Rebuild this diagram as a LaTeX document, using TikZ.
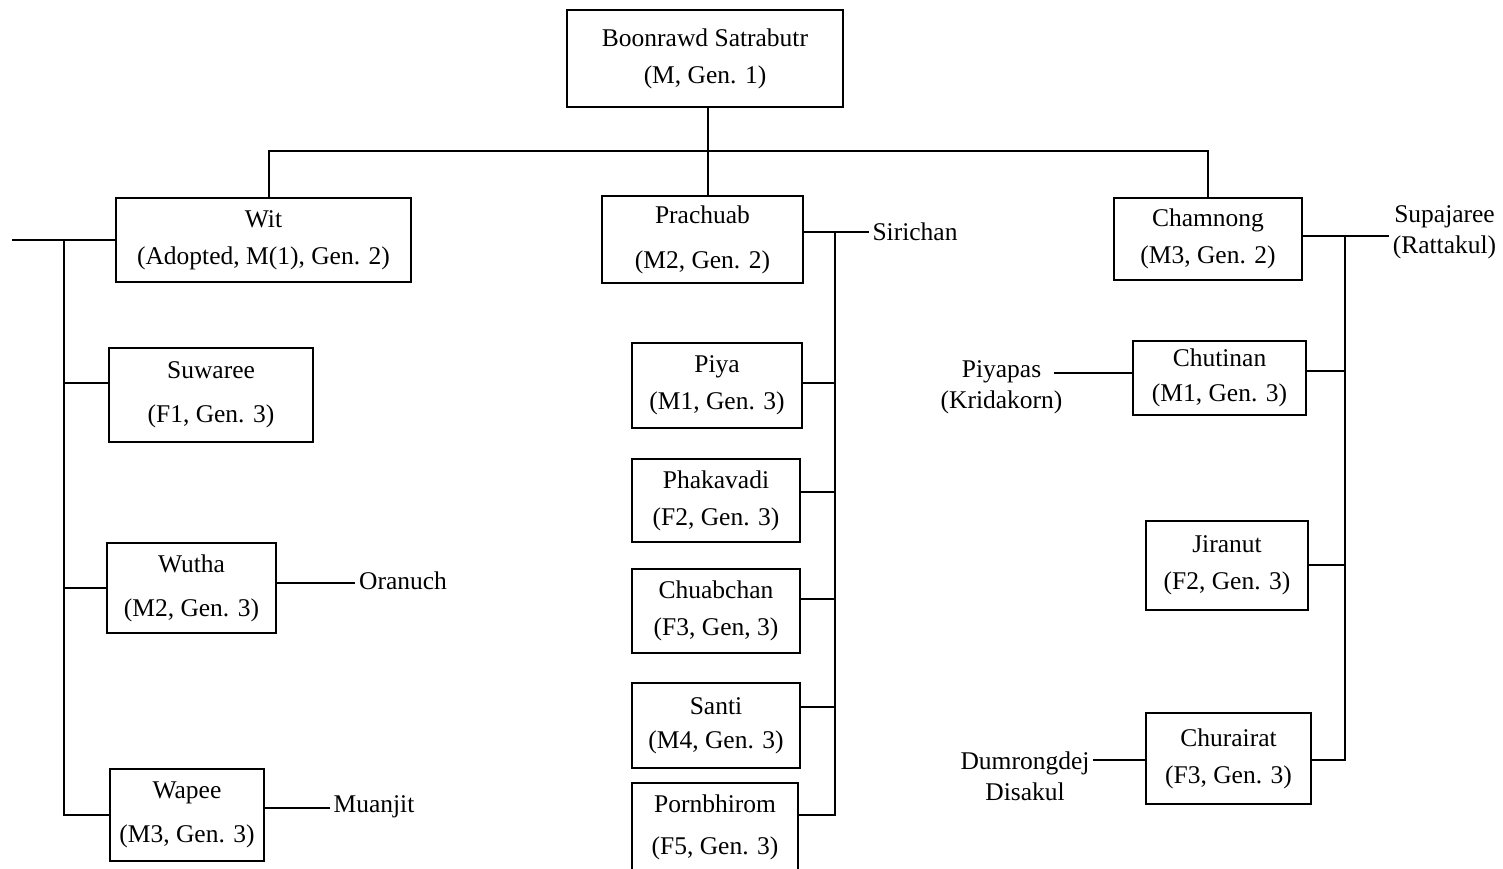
\documentclass[tikz,border=0pt]{standalone}
\usepackage{fontspec}
\setmainfont{Liberation Serif}

\begin{document}
\begin{tikzpicture}[x=1pt, y=-1pt, line width=1.5pt,
  font=\fontsize{25.5}{37}\selectfont,
  person/.style={draw, inner sep=0pt, align=center},
  spouse/.style={inner sep=3pt, align=center, font=\fontsize{25.5}{31}\selectfont}]
\useasboundingbox (0,0) rectangle (1503,869);
\clip (0,0) rectangle (1503,869);

% generation 1
\node[person, minimum width=276pt, minimum height=97pt] (boonrawd) at (705,58.5) {Boonrawd Satrabutr\\(M, Gen. 1)};

% generation 2
\node[person, minimum width=295pt, minimum height=84pt] (wit) at (263.5,240) {Wit\\(Adopted, M(1), Gen. 2)};
\node[person, minimum width=201pt, minimum height=87pt] (prachuab) at (702.5,239.5) {Prachuab\\[8pt](M2, Gen. 2)};
\node[person, minimum width=188pt, minimum height=82pt] (chamnong) at (1208,239) {Chamnong\\(M3, Gen. 2)};

\coordinate (bar) at (708,151);
\draw (bar |- boonrawd.south) -- (bar);
\draw ([xshift=5.5pt]wit.north) |- (bar) -| (chamnong.north);
\draw (bar) -- (bar |- prachuab.north);

% Wit's children
\node[person, minimum width=204pt, minimum height=94pt] (suwaree) at (211,395) {Suwaree\\[7pt](F1, Gen. 3)};
\node[person, minimum width=169pt, minimum height=90pt] (wutha) at (191.5,588) {Wutha\\[7pt](M2, Gen. 3)};
\node[person, minimum width=154pt, minimum height=92pt] (wapee) at (187,815) {Wapee\\[7pt](M3, Gen. 3)};
\node[spouse] (oranuch) at (403,581) {Oranuch};
\node[spouse] (muanjit) at (374,807) {Muanjit};

\coordinate (witEnd) at (12,240);
\coordinate (spineL) at (64,240);
\draw (wit.west) -- (witEnd);
\draw (wapee.west) -| (spineL);
\draw ([yshift=12pt]suwaree.west) -- ([yshift=12pt]suwaree.west -| spineL);
\draw (wutha.west) -- (wutha.west -| spineL);
\draw ([yshift=5pt]wutha.east) -- ([yshift=5pt]wutha.east -| oranuch.west);
\draw ([yshift=7pt]wapee.east) -- ([yshift=7pt]wapee.east -| muanjit.west);

% Prachuab's children
\node[spouse] (sirichan) at (915,232) {Sirichan};
\node[person, minimum width=170pt, minimum height=85pt] (piya) at (717,385.5) {Piya\\(M1, Gen. 3)};
\node[person, minimum width=168pt, minimum height=83pt] (phakavadi) at (716,500.5) {Phakavadi\\(F2, Gen. 3)};
\node[person, minimum width=168pt, minimum height=84pt] (chuabchan) at (716,611) {Chuabchan\\(F3, Gen, 3)};
\node[person, minimum width=168pt, minimum height=85pt] (santi) at (716,725.5) {Santi\\[-3pt](M4, Gen. 3)};
\node[person, minimum width=166pt, minimum height=89pt] (pornbhirom) at (715,827.5) {Pornbhirom\\[5pt](F5, Gen. 3)};

\coordinate (spineM) at (835,232);
\draw ([yshift=7.5pt]prachuab.east) -- ([yshift=7.5pt]prachuab.east -| sirichan.west);
\draw ([yshift=12.5pt]pornbhirom.east) -| (spineM);
\foreach \kid/\dy in {piya/2.5, phakavadi/8.5, chuabchan/12, santi/18.5}
  \draw ([yshift=\dy pt]\kid.east) -- ([yshift=\dy pt]\kid.east -| spineM);

% Chamnong's children
\node[spouse] (supajaree) at (1444.5,232.5) {Supajaree\\(Rattakul)};
\node[person, minimum width=173pt, minimum height=74pt] (chutinan) at (1219.5,378) {Chutinan\\[-2pt](M1, Gen. 3)};
\node[person, minimum width=162pt, minimum height=89pt] (jiranut) at (1227,565.5) {Jiranut\\(F2, Gen. 3)};
\node[person, minimum width=165pt, minimum height=91pt] (churairat) at (1228.5,758.5) {Churairat\\(F3, Gen. 3)};
\node[spouse] (piyapas) at (1001.5,387.5) {Piyapas\\(Kridakorn)};
\node[spouse] (dumrongdej) at (1025,776) {Dumrongdej\\Disakul};
\coordinate (piyapasEnd) at ([xshift=-12pt]piyapas.east);

\coordinate (spineR) at (1345,236);
\draw ([yshift=3pt]chamnong.east) -- ([yshift=3pt]chamnong.east -| supajaree.west);
\draw ([yshift=-1.5pt]churairat.east) -| (spineR);
\draw ([yshift=7pt]chutinan.east) -- ([yshift=7pt]chutinan.east -| spineR);
\draw ([yshift=0.5pt]jiranut.east) -- ([yshift=0.5pt]jiranut.east -| spineR);
\draw ([yshift=5pt]chutinan.west) -- ([yshift=5pt]chutinan.west -| piyapasEnd);
\draw ([yshift=-1.5pt]churairat.west) -- ([yshift=-1.5pt]churairat.west -| dumrongdej.east);
\end{tikzpicture}
\end{document}
